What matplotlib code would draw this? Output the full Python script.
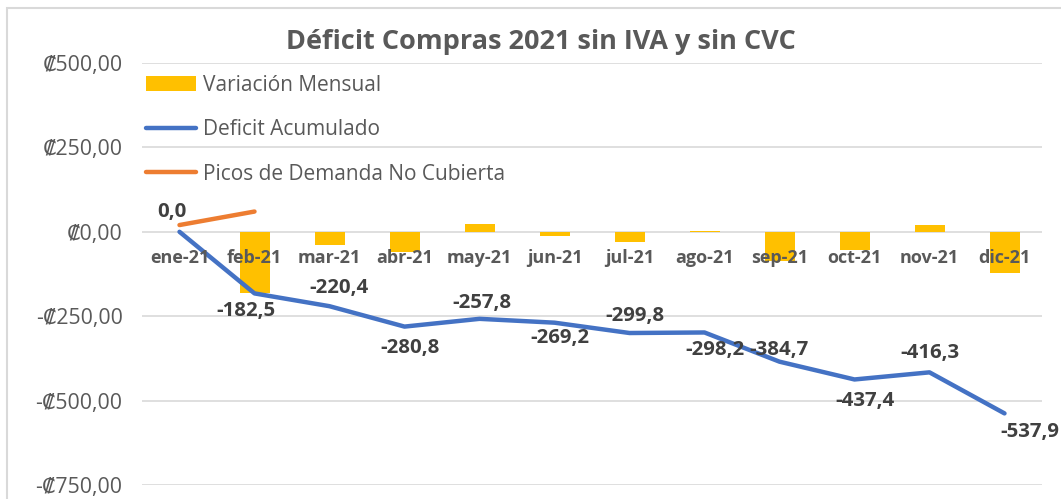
import matplotlib
matplotlib.use("Agg")
import matplotlib.pyplot as plt
from matplotlib.patches import Rectangle

# datos
meses = ["ene-21", "feb-21", "mar-21", "abr-21", "may-21", "jun-21",
         "jul-21", "ago-21", "sep-21", "oct-21", "nov-21", "dic-21"]
variacion = [0.0, -182.5, -37.9, -60.4, 23.0, -11.4, -30.6, 1.6, -86.5, -52.7, 21.1, -121.6]
acumulado = [0.0, -182.5, -220.4, -280.8, -257.8, -269.2, -299.8, -298.2, -384.7, -437.4, -416.3, -537.9]
picos = [20.0, 60.0]
etiquetas = ["0,0", "-182,5", "-220,4", "-280,8", "-257,8", "-269,2", "-299,8",
             "-298,2", "-384,7", "-437,4", "-416,3", "-537,9"]
yticks = [500, 250, 0, -250, -500, -750]
ytick_labels = ["₡500,00", "₡250,00", "₡0,00", "-₡250,00", "-₡500,00", "-₡750,00"]

# desplazamiento de cada etiqueta (pixeles)
offsets = [(-8, 20), (-9, -18), (10, 18), (6, -21), (2, 16), (5, -15),
           (5, 17), (10, -18), (0, 12), (10, -22), (0, 19), (25, -19)]

FONT = ["Open Sans", "DejaVu Sans"]
plt.rcParams["font.family"] = FONT

fig = plt.figure(figsize=(10.61, 4.99), dpi=100)
ax = fig.add_axes([142 / 1061, 1 - 485 / 499, 900 / 1061, 422 / 499])

x = list(range(len(meses)))
barras = ax.bar(x, variacion, width=0.4, color="#FFC000", zorder=2)
l_acum, = ax.plot(x, acumulado, color="#4472C4", lw=3.2, solid_capstyle="round", zorder=3)
l_picos, = ax.plot(x[:len(picos)], picos, color="#ED7D31", lw=3.2,
                   solid_capstyle="round", zorder=3)

ax.set_xlim(-0.5, len(meses) - 0.5)
ax.set_ylim(-750, 500)
ax.set_yticks(yticks)
ax.set_yticklabels(ytick_labels, fontsize=15.3, color="#595959")
ax.tick_params(axis="y", length=0, pad=14)
ax.set_xticks([])
ax.grid(axis="y", color="#D9D9D9", lw=1.2, zorder=0)
ax.set_axisbelow(True)
for s in ax.spines.values():
    s.set_visible(False)

# etiquetas de categoria junto al eje
for i, m in enumerate(meses):
    ax.annotate(m, (i, 0), xytext=(0, -26), textcoords="offset pixels",
                ha="center", va="center", fontsize=13, fontweight="bold",
                color="#595959", zorder=5)

# etiquetas de datos
for i, (v, t) in enumerate(zip(acumulado, etiquetas)):
    dx, dy = offsets[i]
    ax.annotate(t, (i, v), xytext=(dx, dy), textcoords="offset pixels",
                ha="center", va="center", fontsize=14.7, fontweight="bold",
                color="#404040", zorder=6)

leg = ax.legend([barras, l_acum, l_picos],
                ["Variación Mensual", "Deficit Acumulado", "Picos de Demanda No Cubierta"],
                loc="upper left", bbox_to_anchor=(146 / 1061, 1 - 75 / 499),
                bbox_transform=fig.transFigure, frameon=False, fontsize=15,
                handlelength=2.4, handletextpad=0.33, labelspacing=1.12,
                borderpad=0, borderaxespad=0)
for txt in leg.get_texts():
    txt.set_color("#595959")

fig.text(541 / 1061, 1 - 42 / 499, "Déficit Compras 2021 sin IVA y sin CVC",
         ha="center", va="center", fontsize=19.5, fontweight="bold", color="#595959")

# marco del area del grafico
fig.patches.append(Rectangle((7 / 1061, -0.1), 1.2, 1 - 8 / 499 + 0.1,
                             transform=fig.transFigure, fill=False,
                             edgecolor="#D9D9D9", lw=1.5))

fig.savefig("out.png", dpi=100)
